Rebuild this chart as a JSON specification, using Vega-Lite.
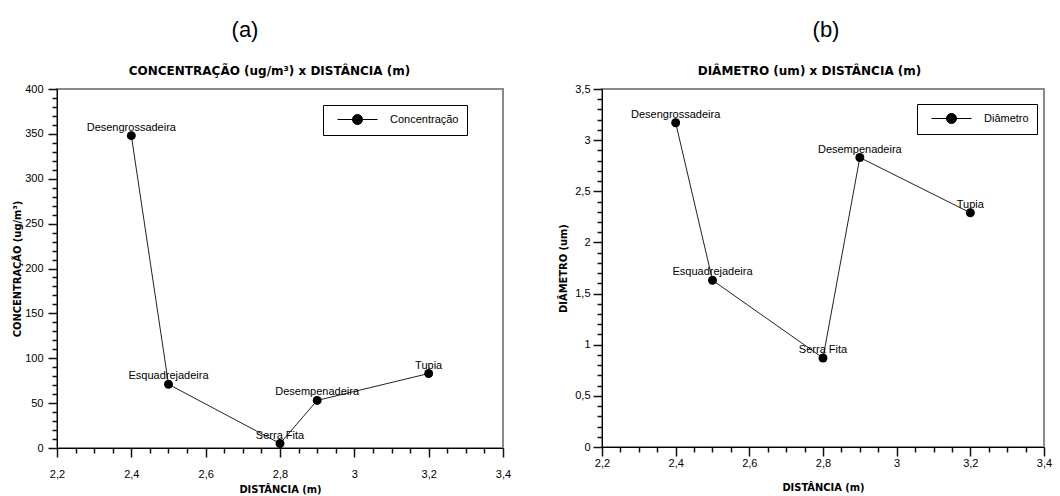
{
  "$schema": "https://vega.github.io/schema/vega-lite/v6.json",
  "background": "white",
  "padding": {"left": 10, "top": 18, "right": 10, "bottom": 0},
  "spacing": 44,
  "datasets": {
    "conc": [
      {"maquina": "Desengrossadeira", "distancia": 2.4, "valor": 348, "serie": "Concentração"},
      {"maquina": "Esquadrejadeira", "distancia": 2.5, "valor": 71, "serie": "Concentração"},
      {"maquina": "Serra Fita", "distancia": 2.8, "valor": 5, "serie": "Concentração"},
      {"maquina": "Desempenadeira", "distancia": 2.9, "valor": 53, "serie": "Concentração"},
      {"maquina": "Tupia", "distancia": 3.2, "valor": 83, "serie": "Concentração"}
    ],
    "diam": [
      {"maquina": "Desengrossadeira", "distancia": 2.4, "valor": 3.17, "serie": "Diâmetro"},
      {"maquina": "Esquadrejadeira", "distancia": 2.5, "valor": 1.63, "serie": "Diâmetro"},
      {"maquina": "Serra Fita", "distancia": 2.8, "valor": 0.87, "serie": "Diâmetro"},
      {"maquina": "Desempenadeira", "distancia": 2.9, "valor": 2.83, "serie": "Diâmetro"},
      {"maquina": "Tupia", "distancia": 3.2, "valor": 2.29, "serie": "Diâmetro"}
    ]
  },
  "config": {
    "view": {"stroke": "#8a8a8a", "strokeWidth": 2},
    "axis": {
      "grid": false,
      "ticks": true,
      "tickWidth": 1.5,
      "tickOpacity": 1,
      "domainColor": "black",
      "tickColor": "#111",
      "labelColor": "black",
      "titleColor": "black",
      "labelFont": "Liberation Sans",
      "labelFontSize": 11,
      "titleFont": "DejaVu Sans Condensed, DejaVu Sans",
      "titleFontWeight": "bold",
      "titleFontSize": 11,
      "labelOverlap": false,
      "labelFlush": false
    },
    "title": {
      "font": "Liberation Sans",
      "fontSize": 22,
      "fontWeight": "normal",
      "color": "black",
      "offset": 22,
      "anchor": "middle",
      "frame": "group"
    },
    "legend": {
      "strokeColor": "black",
      "fillColor": "white",
      "padding": 8,
      "labelFont": "Liberation Sans",
      "labelFontSize": 11,
      "labelColor": "black",
      "symbolType": "M0,0H6.667M4.167,0A0.833,0.833,0,1,1,2.5,0A0.833,0.833,0,1,1,4.167,0Z",
      "symbolSize": 144,
      "symbolStrokeColor": "black",
      "symbolStrokeWidth": 1,
      "symbolFillColor": "black",
      "labelOffset": 46,
      "title": null,
      "orient": "none"
    }
  },
  "hconcat": [
    {
      "width": 446,
      "height": 359,
      "title": {"text": "(a)", "dx": -35},
      "data": {"name": "conc"},
      "layer": [
        {
          "mark": {"type": "line", "color": "#222", "strokeWidth": 1},
          "encoding": {
            "x": {
              "field": "distancia", "type": "quantitative",
              "scale": {"domain": [2.2, 3.4], "nice": false, "zero": false},
              "axis": {
                "orient": "bottom",
                "title": "DISTÂNCIA (m)",
                "titlePadding": 4,
                "values": [2.2, 2.4, 2.6, 2.8, 3.0, 3.2, 3.4],
                "labelExpr": "replace(format(datum.value, '~g'), '.', ',')",
                "tickSize": 9,
                "labelPadding": 11
              }
            },
            "y": {
              "field": "valor", "type": "quantitative",
              "scale": {"domain": [0, 400], "nice": false},
              "axis": {
                "orient": "left",
                "title": "CONCENTRAÇÃO (ug/m³)",
                "values": [0, 50, 100, 150, 200, 250, 300, 350, 400],
                "tickSize": 9,
                "labelPadding": 5,
                "titlePadding": 2
              }
            }
          }
        },
        {
          "mark": {"type": "point", "filled": true, "size": 80, "opacity": 1},
          "encoding": {
            "x": {
              "field": "distancia", "type": "quantitative",
              "axis": {
                "orient": "bottom", "title": null, "labels": false, "domain": false, "tickSize": 5,
                "values": [2.25, 2.3, 2.35, 2.45, 2.5, 2.55, 2.65, 2.7, 2.75, 2.85, 2.9, 2.95, 3.05, 3.1, 3.15, 3.25, 3.3, 3.35]
              }
            },
            "y": {
              "field": "valor", "type": "quantitative",
              "axis": {
                "orient": "left", "title": null, "labels": false, "domain": false, "tickSize": 5,
                "values": [10,20,30,40,60,70,80,90,110,120,130,140,160,170,180,190,210,220,230,240,260,270,280,290,310,320,330,340,360,370,380,390]
              }
            },
            "color": {
              "field": "serie", "type": "nominal",
              "scale": {"range": ["black"]},
              "legend": {"legendX": 266, "legendY": 16}
            }
          }
        },
        {
          "mark": {"type": "text", "dy": -8, "font": "Liberation Sans", "fontSize": 11, "color": "black", "align": "center", "baseline": "middle"},
          "encoding": {
            "x": {
              "field": "distancia", "type": "quantitative",
              "axis": {
                "orient": "top", "domain": false, "ticks": false, "labels": false,
                "title": "CONCENTRAÇÃO (ug/m³) x DISTÂNCIA (m)",
                "titleFont": "DejaVu Sans", "titleFontSize": 12, "titleFontWeight": "bold",
                "titlePadding": 12, "titleX": 212
              }
            },
            "y": {"field": "valor", "type": "quantitative", "axis": null},
            "text": {"field": "maquina"}
          }
        }
      ],
      "resolve": {"axis": {"x": "independent", "y": "independent"}}
    },
    {
      "width": 442,
      "height": 358,
      "title": {"text": "(b)", "dx": 3},
      "data": {"name": "diam"},
      "layer": [
        {
          "mark": {"type": "line", "color": "#222", "strokeWidth": 1},
          "encoding": {
            "x": {
              "field": "distancia", "type": "quantitative",
              "scale": {"domain": [2.2, 3.4], "nice": false, "zero": false},
              "axis": {
                "orient": "bottom",
                "title": "DISTÂNCIA (m)",
                "titlePadding": 13,
                "values": [2.2, 2.4, 2.6, 2.8, 3.0, 3.2, 3.4],
                "labelExpr": "replace(format(datum.value, '~g'), '.', ',')",
                "tickSize": 9,
                "labelPadding": 1
              }
            },
            "y": {
              "field": "valor", "type": "quantitative",
              "scale": {"domain": [0, 3.5], "nice": false},
              "axis": {
                "orient": "left",
                "title": "DIÂMETRO (um)",
                "values": [0, 0.5, 1, 1.5, 2, 2.5, 3, 3.5],
                "labelExpr": "replace(format(datum.value, '~g'), '.', ',')",
                "tickSize": 9,
                "labelPadding": 3,
                "titlePadding": 6
              }
            }
          }
        },
        {
          "mark": {"type": "point", "filled": true, "size": 80, "opacity": 1},
          "encoding": {
            "x": {
              "field": "distancia", "type": "quantitative",
              "axis": {
                "orient": "bottom", "title": null, "labels": false, "domain": false, "tickSize": 5,
                "values": [2.25, 2.3, 2.35, 2.45, 2.5, 2.55, 2.65, 2.7, 2.75, 2.85, 2.9, 2.95, 3.05, 3.1, 3.15, 3.25, 3.3, 3.35]
              }
            },
            "y": {
              "field": "valor", "type": "quantitative",
              "axis": {
                "orient": "left", "title": null, "labels": false, "domain": false, "tickSize": 5,
                "values": [0.1,0.2,0.3,0.4,0.6,0.7,0.8,0.9,1.1,1.2,1.3,1.4,1.6,1.7,1.8,1.9,2.1,2.2,2.3,2.4,2.6,2.7,2.8,2.9,3.1,3.2,3.3,3.4]
              }
            },
            "color": {
              "field": "serie", "type": "nominal",
              "scale": {"range": ["black"]},
              "legend": {"legendX": 315, "legendY": 15}
            }
          }
        },
        {
          "mark": {"type": "text", "dy": -8, "font": "Liberation Sans", "fontSize": 11, "color": "black", "align": "center", "baseline": "middle"},
          "encoding": {
            "x": {
              "field": "distancia", "type": "quantitative",
              "axis": {
                "orient": "top", "domain": false, "ticks": false, "labels": false,
                "title": "DIÂMETRO (um) x DISTÂNCIA (m)",
                "titleFont": "DejaVu Sans", "titleFontSize": 12, "titleFontWeight": "bold",
                "titlePadding": 12, "titleX": 207
              }
            },
            "y": {"field": "valor", "type": "quantitative", "axis": null},
            "text": {"field": "maquina"}
          }
        }
      ],
      "resolve": {"axis": {"x": "independent", "y": "independent"}}
    }
  ],
  "resolve": {"scale": {"color": "independent"}}
}
